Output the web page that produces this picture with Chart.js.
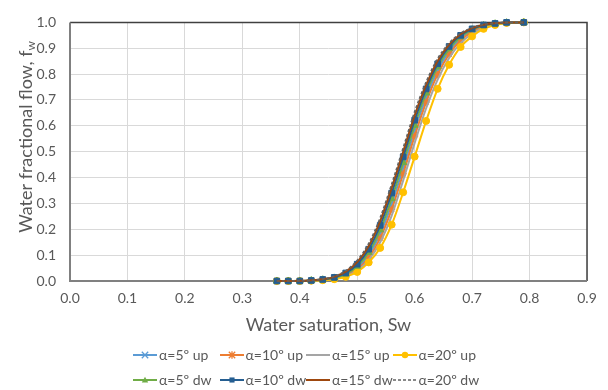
<!DOCTYPE html>
<html>
<head>
<meta charset="utf-8">
<script src="https://cdn.jsdelivr.net/npm/chart.js@4.4.1/dist/chart.umd.min.js"></script>
<style>
  html, body { margin: 0; padding: 0; background: #fff; }
  #wrap { position: relative; width: 608px; height: 390px; overflow: hidden; }
  #c { position: absolute; left: 0; top: 0; }
  #legend { position: absolute; left: 133px; top: 342px; width: 360px; font-family: Lato, "Open Sans", sans-serif; font-size: 14px; color: #595959; }
  .row { display: flex; height: 25px; align-items: center; }
  .item { width: 86.5px; display: flex; align-items: center; white-space: nowrap; }
  .item canvas { margin-right: 2px; }
</style>
</head>
<body>
<div id="wrap">
  <canvas id="c" width="608" height="390"></canvas>
  <div id="legend"></div>
</div>
<script>
// ---- data ----
const sw = [0.36,0.38,0.40,0.42,0.44,0.46,0.48,0.50,0.52,0.54,0.56,0.58,0.60,0.62,0.64,0.66,0.68,0.70,0.72,0.74,0.76,0.79];

const labels = ['α=5º up','α=10º up','α=15º up','α=20º up','α=5º dw','α=10º dw','α=15º dw','α=20º dw'];

const fw5up  = [0,0,0,0.001,0.004,0.010,0.023,0.050,0.100,0.182,0.298,0.437,0.582,0.710,0.814,0.888,0.937,0.968,0.986,0.994,0.999,1.0];
const fw10up = [0,0,0,0.001,0.004,0.009,0.021,0.045,0.090,0.166,0.277,0.415,0.561,0.692,0.799,0.877,0.930,0.963,0.983,0.993,0.998,1.0];
const fw15up = [0,0,0,0.001,0.003,0.008,0.018,0.040,0.081,0.150,0.253,0.389,0.534,0.668,0.779,0.862,0.920,0.956,0.979,0.991,0.998,1.0];
const fw20up = [0,0,0,0.001,0.003,0.007,0.016,0.035,0.072,0.128,0.218,0.343,0.481,0.619,0.743,0.836,0.905,0.946,0.975,0.990,0.998,1.0];
const fw5dw  = [0,0,0,0.002,0.005,0.012,0.027,0.057,0.111,0.198,0.318,0.458,0.602,0.727,0.828,0.898,0.944,0.972,0.988,0.995,0.999,1.0];
const fw10dw = [0,0,0,0.002,0.006,0.014,0.031,0.065,0.123,0.215,0.340,0.480,0.622,0.743,0.840,0.907,0.950,0.975,0.990,0.996,1.0,1.0];
const fw15dw = [0,0,0.001,0.003,0.007,0.016,0.036,0.073,0.135,0.232,0.360,0.500,0.640,0.758,0.851,0.914,0.954,0.978,0.991,0.997,1.0,1.0];
const fw20dw = [0,0,0.001,0.003,0.008,0.018,0.040,0.080,0.145,0.245,0.375,0.515,0.655,0.770,0.860,0.920,0.958,0.980,0.992,0.997,1.0,1.0];

const xTickLabels = ['0.0','0.1','0.2','0.3','0.4','0.5','0.6','0.7','0.8','0.9'];
const yTickLabels = ['0.0','0.1','0.2','0.3','0.4','0.5','0.6','0.7','0.8','0.9','1.0'];

const xTitle = 'Water saturation, Sw';
const yTitleMain = 'Water fractional flow, f';
const yTitleSub = 'w';

// ---- styles ----
const series = [fw5up, fw10up, fw15up, fw20up, fw5dw, fw10dw, fw15dw, fw20dw];
const colors = ['#5B9BD5','#ED7D31','#A5A5A5','#FFC000','#70AD47','#255E91','#9E480E','#636363'];
const markers = ['crossRot','star',false,'circle','triangle','rect',false,false];
const radii =   [3.5, 3.5, 0, 3.5, 4, 4, 0, 0];
const dashes =  [[],[],[],[],[],[],[],[3,2]];

const FONT = 'Lato, "Open Sans", sans-serif';

const datasets = series.map((arr, i) => ({
  label: labels[i],
  data: sw.map((x, k) => ({ x: x, y: arr[k] })),
  borderColor: colors[i],
  backgroundColor: colors[i],
  borderWidth: i === 7 ? 1.6 : 2,
  borderDash: dashes[i],
  pointStyle: markers[i] || 'circle',
  pointRadius: radii[i],
  pointBorderWidth: markers[i] === 'crossRot' || markers[i] === 'star' ? 1.5 : 1,
  cubicInterpolationMode: 'monotone',
  clip: false,
  order: 7 - i
}));

const framePlugin = {
  id: 'frame',
  beforeDatasetsDraw(chart) {
    const { ctx, chartArea: a } = chart;
    ctx.save();
    ctx.lineWidth = 1.5;
    ctx.strokeStyle = '#404040';
    ctx.beginPath();
    ctx.moveTo(a.left, a.top); ctx.lineTo(a.right, a.top); ctx.lineTo(a.right, a.bottom);
    ctx.stroke();
    ctx.strokeStyle = '#808080';
    ctx.lineWidth = 2;
    ctx.beginPath();
    ctx.moveTo(a.left, a.top); ctx.lineTo(a.left, a.bottom); ctx.lineTo(a.right, a.bottom);
    ctx.stroke();
    ctx.restore();
  },
  afterDraw(chart) {
    const { ctx } = chart;
    ctx.save();
    ctx.fillStyle = '#595959';
    const mainFont = '18px ' + FONT;
    const subFont = '12px ' + FONT;
    ctx.font = mainFont;
    const w1 = ctx.measureText(yTitleMain).width;
    ctx.font = subFont;
    const w2 = ctx.measureText(yTitleSub).width;
    const total = w1 + w2;
    const cx = 26, cy = 137;
    ctx.translate(cx, cy);
    ctx.rotate(-Math.PI / 2);
    ctx.textBaseline = 'middle';
    ctx.textAlign = 'left';
    ctx.font = mainFont;
    ctx.fillText(yTitleMain, -total / 2, 0);
    ctx.font = subFont;
    ctx.fillText(yTitleSub, -total / 2 + w1, 5);
    ctx.restore();
  }
};

const chart = new Chart(document.getElementById('c'), {
  type: 'line',
  data: { datasets },
  options: {
    responsive: false,
    devicePixelRatio: 1,
    animation: false,
    layout: { padding: { left: 0, right: 21, top: 13, bottom: 49 } },
    plugins: { legend: { display: false }, tooltip: { enabled: false } },
    scales: {
      x: {
        type: 'linear', min: 0, max: 0.9,
        ticks: { stepSize: 0.1, color: '#595959', font: { family: FONT, size: 14 }, padding: 9,
          callback: (v, i) => xTickLabels[i] },
        grid: { color: '#D9D9D9', lineWidth: 1, drawTicks: false },
        border: { display: false },
        title: { display: true, text: xTitle, color: '#595959', font: { family: FONT, size: 18 }, padding: { top: 4, bottom: 5 } },
        afterFit: s => { s.height = 60; }
      },
      y: {
        type: 'linear', min: 0, max: 1,
        ticks: { stepSize: 0.1, color: '#595959', font: { family: FONT, size: 14 }, padding: 14,
          callback: (v, i) => yTickLabels[i] },
        grid: { color: '#D9D9D9', lineWidth: 1, drawTicks: false },
        border: { display: false },
        afterFit: s => { s.width = 70; }
      }
    }
  },
  plugins: [framePlugin]
});

// ---- HTML legend (Excel-like: line with marker) ----
function drawMarker(ctx, style, x, y, r, color) {
  ctx.strokeStyle = color; ctx.fillStyle = color; ctx.lineWidth = 1.3;
  ctx.setLineDash([]);
  ctx.beginPath();
  if (style === 'crossRot') {
    ctx.moveTo(x - r, y - r); ctx.lineTo(x + r, y + r);
    ctx.moveTo(x + r, y - r); ctx.lineTo(x - r, y + r); ctx.stroke();
  } else if (style === 'star') {
    ctx.moveTo(x - r, y - r); ctx.lineTo(x + r, y + r);
    ctx.moveTo(x + r, y - r); ctx.lineTo(x - r, y + r);
    ctx.moveTo(x, y - r * 1.2); ctx.lineTo(x, y + r * 1.2); ctx.stroke();
  } else if (style === 'circle') {
    ctx.arc(x, y, r, 0, Math.PI * 2); ctx.fill();
  } else if (style === 'triangle') {
    ctx.moveTo(x, y - r); ctx.lineTo(x + r, y + r * 0.75); ctx.lineTo(x - r, y + r * 0.75); ctx.closePath(); ctx.fill();
  } else if (style === 'rect') {
    ctx.fillRect(x - r * 0.8, y - r * 0.8, r * 1.6, r * 1.6);
  }
}
const legendEl = document.getElementById('legend');
let row;
chart.data.datasets.forEach((ds, i) => {
  if (i % 4 === 0) { row = document.createElement('div'); row.className = 'row'; legendEl.appendChild(row); }
  const item = document.createElement('div'); item.className = 'item';
  const cv = document.createElement('canvas'); cv.width = 24; cv.height = 12;
  const g = cv.getContext('2d');
  g.strokeStyle = ds.borderColor; g.lineWidth = i === 7 ? 1.3 : 2; g.setLineDash(ds.borderDash);
  g.beginPath(); g.moveTo(0, 6); g.lineTo(24, 6); g.stroke();
  if (markers[i]) drawMarker(g, markers[i], 12, 6, 3.2, ds.borderColor);
  const span = document.createElement('span'); span.textContent = ds.label;
  item.appendChild(cv); item.appendChild(span); row.appendChild(item);
});
</script>
</body>
</html>
